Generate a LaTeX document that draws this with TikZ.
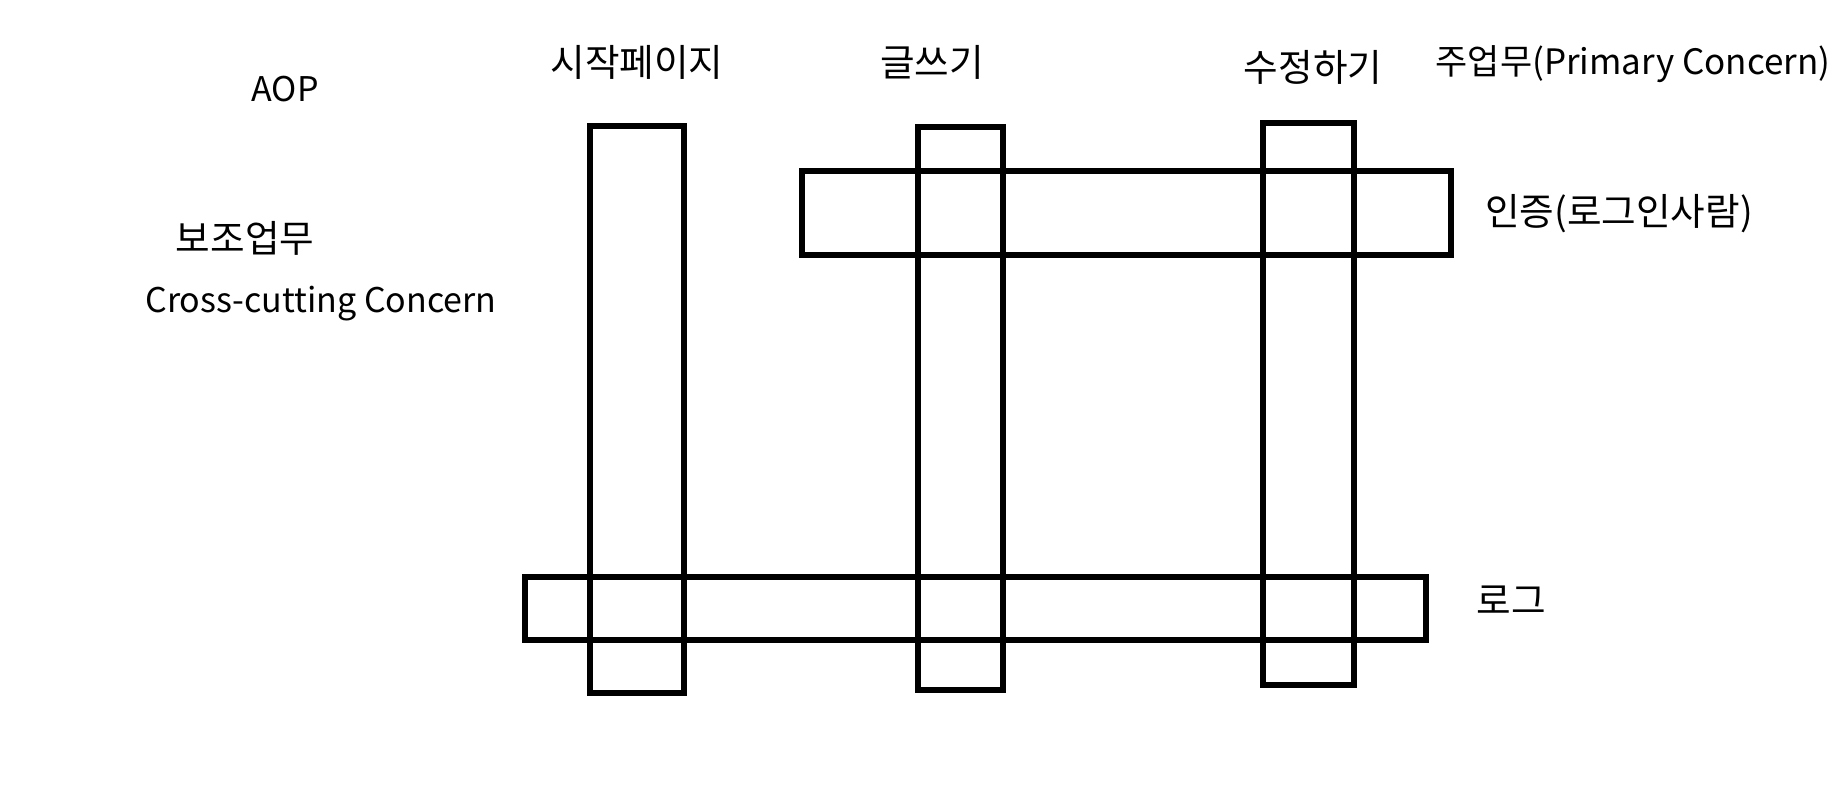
\documentclass[tikz,border=0pt]{standalone}
\usepackage{fontspec}
\setmainfont{Noto Sans CJK KR}
\begin{document}
\begin{tikzpicture}[x=0.5pt,y=-0.5pt,
  bar/.style={draw=black,line width=2.6pt},
  lbl/.style={inner sep=0pt,font=\fontsize{17pt}{20pt}\selectfont},
  klbl/.style={inner sep=0pt,font=\fontsize{18.8pt}{22pt}\selectfont}]
\useasboundingbox (0,0) rectangle (1846,803);
% vertical bars
\draw[bar] (590,126) rectangle (684,693);
\draw[bar] (918,127) rectangle (1003,690);
\draw[bar] (1263,123) rectangle (1354,685);
% horizontal bars
\draw[bar] (802,171) rectangle (1451,255);
\draw[bar] (525,577) rectangle (1426,640);
% labels
\node[lbl] (aop) at (285,89) {AOP};
\node[klbl] (sub) at (245,238) {보조업무};
\node[lbl] (cc) at (321,304) {Cross-cutting Concern};
\node[klbl] (start) at (637,62) {시작페이지};
\node[klbl] (write) at (932,62) {글쓰기};
\node[klbl] (edit) at (1313,67) {수정하기};
\node[inner sep=0pt,font=\fontsize{17.5pt}{21pt}\selectfont] (main) at (1633,64) {주업무(Primary Concern)};
\node[klbl] (auth) at (1619,214) {인증(로그인사람)};
\node[klbl] (log) at (1511,600) {로그};
\end{tikzpicture}
\end{document}
